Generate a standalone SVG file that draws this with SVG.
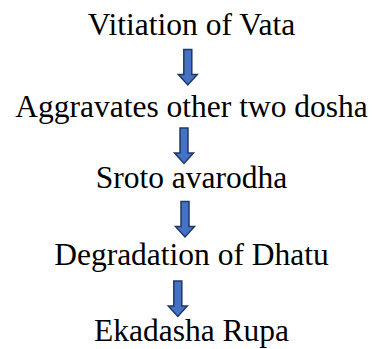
<svg xmlns="http://www.w3.org/2000/svg" width="373" height="349" viewBox="0 0 373 349">
<style>
.a{fill:#4472C4;stroke:#1F3864;stroke-width:1.5;stroke-linejoin:miter}
</style>
<defs>
<polygon id="arr" class="a" points="-4,0 4,0 4,25 9.5,25 0,35.5 -9.5,25 -4,25"/>
</defs>
<rect width="373" height="349" fill="#fff"/>
<g font-family="Liberation Serif" font-size="31.5" fill="#000" text-anchor="middle">
<g id="n1"><text x="191.5" y="35">Vitiation of Vata</text></g>
<g id="n2"><text x="191.5" y="117">Aggravates other two dosha</text></g>
<g id="n3"><text x="191.5" y="188">Sroto avarodha</text></g>
<g id="n4"><text x="191.5" y="265">Degradation of Dhatu</text></g>
<g id="n5"><text x="191.5" y="341">Ekadasha Rupa</text></g>
</g>
<g id="connectors">
<use href="#arr" x="187.8" y="49.5"/>
<use href="#arr" x="184" y="128"/>
<use href="#arr" x="185" y="201.5"/>
<use href="#arr" x="177.8" y="281"/>
</g>
</svg>
